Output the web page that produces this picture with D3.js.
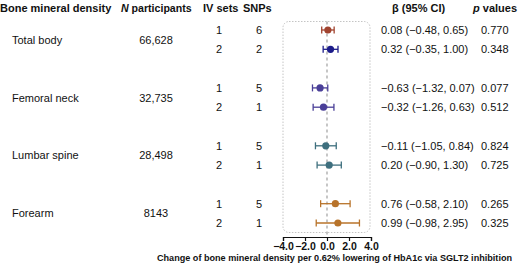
<!DOCTYPE html>
<html>
<head>
<meta charset="utf-8">
<script src="https://cdn.jsdelivr.net/npm/d3@7"></script>
<style>
  body { margin: 0; background: #fff; }
  svg { font-family: "Liberation Sans", Arial, sans-serif; }
</style>
</head>
<body>
<div id="chart"></div>
<script>
// data
const sites = ["Total body", "Femoral neck", "Lumbar spine", "Forearm"];
const nParticipants = ["66,628", "32,735", "28,498", "8143"];
const ivSets = [1, 2, 1, 2, 1, 2, 1, 2];
const snps = [6, 2, 5, 1, 5, 1, 5, 1];
const beta = [0.08, 0.32, -0.63, -0.32, -0.11, 0.20, 0.76, 0.99];
const lower = [-0.48, -0.35, -1.32, -1.26, -1.05, -0.90, -0.58, -0.98];
const upper = [0.65, 1.00, 0.07, 0.63, 0.84, 1.30, 2.10, 2.95];
const pValues = ["0.770", "0.348", "0.077", "0.512", "0.824", "0.725", "0.265", "0.325"];
const colors = ["#a1432f", "#1c1c8a", "#4a3f98", "#4a3f98", "#3e6f7e", "#3e6f7e", "#b8732a", "#b8732a"];
const xTicks = [-4, -2, 0, 2, 4];

const width = 520, height = 266;

const svg = d3.select("#chart")
    .append("svg")
    .attr("width", width)
    .attr("height", height);

const fmt = v => d3.format(".2f")(v).replace("-", "\u2013");

const rows = beta.map((b, i) => ({
    i: i,
    group: Math.floor(i / 2),
    slot: Math.floor(i / 2) * 3 + (i % 2),
    iv: ivSets[i],
    snp: snps[i],
    beta: b,
    lo: lower[i],
    hi: upper[i],
    p: pValues[i],
    color: colors[i]
}));

const x = d3.scaleLinear().domain([-4, 4]).range([283, 371]);
const y = d3.scaleLinear().domain([0, 10]).range([30, 223]);

// headers
const header = svg.append("g")
    .attr("font-size", 11)
    .attr("font-weight", "bold")
    .attr("fill", "#111");

header.append("text").attr("x", 0).attr("y", 11.5).text("Bone mineral density");
const np = header.append("text").attr("x", 121).attr("y", 11.5).attr("font-size", 10.6);
np.append("tspan").attr("font-style", "italic").text("N");
np.append("tspan").text(" participants");
header.append("text").attr("x", 203).attr("y", 11.5).text("IV sets");
header.append("text").attr("x", 243).attr("y", 11.5).text("SNPs");
header.append("text").attr("x", 392).attr("y", 11.5).text("\u03b2 (95% CI)");
const pv = header.append("text").attr("x", 473).attr("y", 11.5);
pv.append("tspan").attr("font-style", "italic").text("p");
pv.append("tspan").text(" values");

// site labels and N
const groupText = svg.append("g")
    .attr("font-size", 11)
    .attr("fill", "#111");

sites.forEach((s, g) => {
    const yc = (y(g * 3) + y(g * 3 + 1)) / 2 + 4;
    groupText.append("text").attr("x", 12).attr("y", yc).text(s);
    groupText.append("text").attr("x", 156).attr("y", yc)
        .attr("text-anchor", "middle").text(nParticipants[g]);
});

// per row text
const rowText = svg.append("g")
    .attr("font-size", 11)
    .attr("fill", "#111")
    .selectAll("g")
    .data(rows)
    .join("g")
    .attr("transform", d => `translate(0,${y(d.slot) + 4})`);

rowText.append("text").attr("x", 219).attr("text-anchor", "middle").text(d => d.iv);
rowText.append("text").attr("x", 259).attr("text-anchor", "middle").text(d => d.snp);
rowText.append("text").attr("x", 381)
    .text(d => `${fmt(d.beta)} (${fmt(d.lo)}, ${fmt(d.hi)})`);
rowText.append("text").attr("x", 481).text(d => d.p);

// plot frame
svg.append("rect")
    .attr("x", x(-4))
    .attr("y", 21.5)
    .attr("width", x(4) - x(-4) - 1)
    .attr("height", 211)
    .attr("rx", 6)
    .attr("fill", "none")
    .attr("stroke", "#c4c4c4")
    .attr("stroke-width", 1)
    .attr("stroke-dasharray", "1.5,1.5");

svg.append("line")
    .attr("x1", x(0)).attr("x2", x(0))
    .attr("y1", 21.5).attr("y2", 237)
    .attr("stroke", "#a0a0a0")
    .attr("stroke-width", 1.2)
    .attr("stroke-dasharray", "3,3");

// error bars
const bar = svg.append("g")
    .selectAll("g")
    .data(rows)
    .join("g")
    .attr("stroke", d => d.color)
    .attr("fill", d => d.color);

bar.append("line")
    .attr("x1", d => x(d.lo)).attr("x2", d => x(d.hi))
    .attr("y1", d => y(d.slot)).attr("y2", d => y(d.slot))
    .attr("stroke-width", 1.3);

bar.append("line")
    .attr("x1", d => x(d.lo)).attr("x2", d => x(d.lo))
    .attr("y1", d => y(d.slot) - 3.5).attr("y2", d => y(d.slot) + 3.5)
    .attr("stroke-width", 1.3);

bar.append("line")
    .attr("x1", d => x(d.hi)).attr("x2", d => x(d.hi))
    .attr("y1", d => y(d.slot) - 3.5).attr("y2", d => y(d.slot) + 3.5)
    .attr("stroke-width", 1.3);

bar.append("circle")
    .attr("cx", d => x(d.beta))
    .attr("cy", d => y(d.slot))
    .attr("r", 3.6)
    .attr("stroke", "none");

// x axis
const xAxis = g => g
    .attr("transform", "translate(0,237)")
    .call(d3.axisBottom(x)
        .tickValues(xTicks)
        .tickFormat(d => d3.format(".1f")(d).replace("-", "\u2013"))
        .tickSizeOuter(0)
        .tickSize(4)
        .tickPadding(2));

const ax = svg.append("g").call(xAxis);
ax.select(".domain").attr("stroke", "#111").attr("stroke-width", 1.2);
ax.selectAll(".tick line").attr("stroke", "#111").attr("stroke-width", 1.2);
ax.selectAll(".tick text")
    .attr("font-family", "Liberation Sans, Arial, sans-serif")
    .attr("font-size", 10.5)
    .attr("font-weight", "bold")
    .attr("fill", "#111");

svg.append("text")
    .attr("x", 334.5)
    .attr("y", 261)
    .attr("text-anchor", "middle")
    .attr("font-size", 9.1)
    .attr("font-weight", "bold")
    .attr("fill", "#111")
    .text("Change of bone mineral density per 0.62% lowering of HbA1c via SGLT2 inhibition");
</script>
</body>
</html>
